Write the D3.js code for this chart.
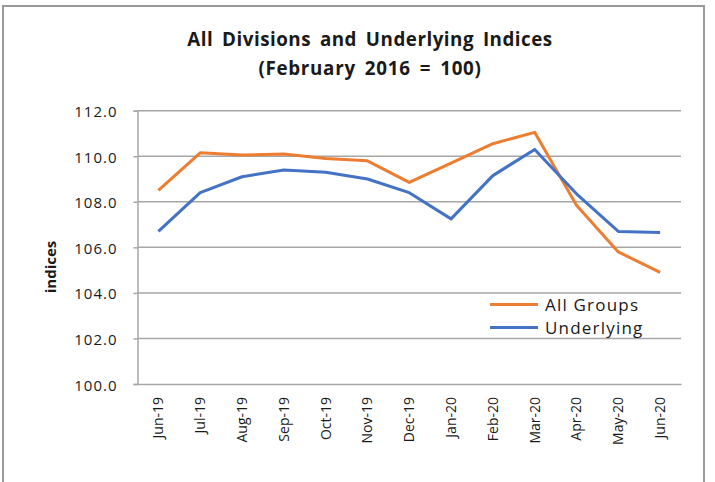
<!DOCTYPE html>
<html><head><meta charset="utf-8">
<script src="https://cdn.jsdelivr.net/npm/d3@7"></script>
<style>
html,body{margin:0;padding:0;background:#fff;}
svg{display:block;font-family:"Open Sans",Lato,sans-serif;}
</style></head>
<body>
<svg id="chart" width="715" height="482"></svg>
<script>
const categories = ["Jun-19","Jul-19","Aug-19","Sep-19","Oct-19","Nov-19","Dec-19","Jan-20","Feb-20","Mar-20","Apr-20","May-20","Jun-20"];
const allGroups = [108.5,110.15,110.05,110.1,109.9,109.8,108.85,109.7,110.55,111.05,107.85,105.8,104.9];
const underlying = [106.7,108.4,109.1,109.4,109.3,109.0,108.4,107.25,109.15,110.3,108.35,106.7,106.65];
const yTicks = [100,102,104,106,108,110,112];
const seriesNames = ["All Groups","Underlying"];
const colors = ["#ED7D31","#4472C4"];

const svg = d3.select("#chart");
const pLeft = 137.5, pRight = 681, pTop = 110.7, pBottom = 384;

// frame
svg.append("path").attr("d","M3,490 L3,6 L704,6 L704,490")
  .attr("fill","none").attr("stroke","#9a9a9a").attr("stroke-width",2);

const x = d3.scaleBand().domain(categories).range([pLeft,pRight]).paddingInner(0).paddingOuter(0);
const y = d3.scaleLinear().domain([100,112]).range([pBottom,pTop]);

// gridlines
svg.append("g").selectAll("line").data(yTicks.filter(d=>d>100)).join("line")
  .attr("x1",pLeft).attr("x2",pRight).attr("y1",d=>y(d)).attr("y2",d=>y(d))
  .attr("stroke","#a6a6a6").attr("stroke-width",1.5);

// y axis
const yAxis = svg.append("g").attr("transform",`translate(${pLeft},0)`)
  .call(d3.axisLeft(y).tickValues(yTicks).tickFormat(d3.format(".1f")).tickSize(4).tickPadding(16));
yAxis.select(".domain").attr("stroke","#a6a6a6").attr("stroke-width",1.5);
yAxis.selectAll(".tick line").attr("stroke","#a6a6a6").attr("stroke-width",1.5);
yAxis.selectAll("text").attr("font-size",15).attr("letter-spacing",1).attr("dy","0.4em")
  .attr("fill","#1a1a1a").attr("font-family","Open Sans");

// x axis
const xAxis = svg.append("g").attr("transform",`translate(0,${pBottom})`)
  .call(d3.axisBottom(x).tickSize(0).tickPadding(0));
xAxis.select(".domain").attr("stroke","#a6a6a6").attr("stroke-width",1.5);
xAxis.selectAll("text")
  .attr("transform","rotate(-90)")
  .attr("text-anchor","end")
  .attr("x",-13).attr("y",0).attr("dy","0.35em")
  .attr("font-size",14).attr("fill","#1a1a1a").attr("font-family","Open Sans");

// lines
const line = d3.line().x((d,i)=>x(categories[i])+x.bandwidth()/2).y(d=>y(d));
[allGroups, underlying].forEach((s,i)=>{
  svg.append("path").datum(s).attr("d",line).attr("fill","none")
    .attr("stroke",colors[i]).attr("stroke-width",3).attr("stroke-linejoin","round");
});

// legend
seriesNames.forEach((n,i)=>{
  const ly = 304.5 + i*23;
  svg.append("line").attr("x1",490).attr("x2",538).attr("y1",ly).attr("y2",ly)
    .attr("stroke",colors[i]).attr("stroke-width",3);
  svg.append("text").attr("x",545).attr("y",ly).attr("dy","0.36em")
    .attr("font-size",17).attr("fill","#1a1a1a").attr("letter-spacing",1.2).text(n);
});

// titles
svg.append("text").attr("x",370).attr("y",46).attr("text-anchor","middle")
  .attr("font-size",18.8).attr("font-weight","bold").attr("letter-spacing",0.5).attr("word-spacing",3.5)
  .attr("fill","#1a1a1a").text("All Divisions and Underlying Indices");
svg.append("text").attr("x",370).attr("y",75).attr("text-anchor","middle")
  .attr("font-size",18.8).attr("font-weight","bold").attr("letter-spacing",0.7).attr("word-spacing",3.5)
  .attr("fill","#1a1a1a").text("(February 2016 = 100)");

svg.append("text").attr("transform","translate(56,267) rotate(-90)").attr("text-anchor","middle")
  .attr("font-size",15).attr("font-weight","bold").attr("fill","#1a1a1a").text("indices");
</script>
</body></html>
